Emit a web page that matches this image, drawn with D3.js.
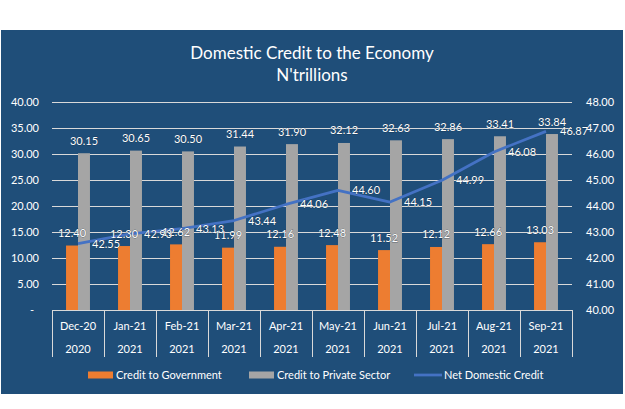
<!DOCTYPE html>
<html>
<head>
<meta charset="utf-8">
<script src="https://cdn.jsdelivr.net/npm/d3@7"></script>
<style>
  body { margin: 0; background: #fff; }
  svg { display: block; font-family: Lato, "Open Sans", sans-serif; }
</style>
</head>
<body>
<svg width="625" height="409"></svg>
<script>
// chart values
const months = ['Dec-20', 'Jan-21', 'Feb-21', 'Mar-21', 'Apr-21', 'May-21', 'Jun-21', 'Jul-21', 'Aug-21', 'Sep-21'];
const years = ['2020', '2021', '2021', '2021', '2021', '2021', '2021', '2021', '2021', '2021'];
const creditGov = [12.40, 12.30, 12.62, 11.99, 12.16, 12.48, 11.52, 12.12, 12.66, 13.03];
const creditPrivate = [30.15, 30.65, 30.50, 31.44, 31.90, 32.12, 32.63, 32.86, 33.41, 33.84];
const netDomestic = [42.55, 42.93, 43.13, 43.44, 44.06, 44.60, 44.15, 44.99, 46.08, 46.87];
const leftTicks = [0, 5, 10, 15, 20, 25, 30, 35, 40];
const rightTicks = [40, 41, 42, 43, 44, 45, 46, 47, 48];

const svg = d3.select('svg');
const bg = '#1F4E79';
const orange = '#ED7D31';
const grey = '#A5A5A5';
const blue = '#4472C4';

svg.append('rect')
  .attr('x', 1).attr('y', 30)
  .attr('width', 622).attr('height', 364)
  .attr('fill', bg);

// title
svg.append('text')
  .attr('x', 312).attr('y', 59)
  .attr('text-anchor', 'middle')
  .attr('fill', '#fff')
  .attr('font-size', 17)
  .text('Domestic Credit to the Economy');
svg.append('text')
  .attr('x', 312).attr('y', 81)
  .attr('text-anchor', 'middle')
  .attr('fill', '#fff')
  .attr('font-size', 17)
  .text("N'trillions");

const plotL = 52, plotR = 572, plotT = 102, plotB = 310;

const x = d3.scaleBand().domain(months).range([plotL, plotR]).padding(0);
const bw = x.bandwidth();
const x1 = d3.scaleBand().domain(['gov', 'priv']).range([bw * 0.27, bw * 0.73]).padding(0);
const y = d3.scaleLinear().domain([0, 40]).range([plotB, plotT]);
const y2 = d3.scaleLinear().domain([40, 48]).range([plotB, plotT]);

// gridlines
const grid = svg.append('g')
  .attr('transform', `translate(${plotL},0)`)
  .call(d3.axisLeft(y).tickValues(leftTicks.slice(1)).tickSize(-(plotR - plotL)).tickFormat(''));
grid.select('.domain').remove();
grid.selectAll('line').attr('stroke', '#D9D9D9').attr('stroke-width', 1);

// left axis
const yAxis = svg.append('g')
  .attr('transform', `translate(${plotL},0)`)
  .call(d3.axisLeft(y).tickValues(leftTicks).tickSize(0).tickPadding(13)
    .tickFormat(d => d === 0 ? '-' : d.toFixed(2)));
yAxis.select('.domain').remove();
yAxis.selectAll('text').attr('fill', '#fff').attr('font-size', 11).attr('font-family', 'Lato');
yAxis.selectAll('.tick').filter(d => d === 0).select('text').attr('x', -18);

// right axis
const y2Axis = svg.append('g')
  .attr('transform', `translate(${plotR},0)`)
  .call(d3.axisRight(y2).tickValues(rightTicks).tickSize(0).tickPadding(14)
    .tickFormat(d => d.toFixed(2)));
y2Axis.select('.domain').remove();
y2Axis.selectAll('text').attr('fill', '#fff').attr('font-size', 11).attr('font-family', 'Lato');

// bars
const groups = svg.append('g').selectAll('g')
  .data(months)
  .join('g')
  .attr('transform', d => `translate(${x(d)},0)`);

groups.append('rect')
  .attr('x', x1('gov'))
  .attr('width', x1.bandwidth())
  .attr('y', (d, i) => y(creditGov[i]))
  .attr('height', (d, i) => y(0) - y(creditGov[i]))
  .attr('fill', orange);

groups.append('rect')
  .attr('x', x1('priv'))
  .attr('width', x1.bandwidth())
  .attr('y', (d, i) => y(creditPrivate[i]))
  .attr('height', (d, i) => y(0) - y(creditPrivate[i]))
  .attr('fill', grey);

// category axis
const cat = svg.append('g');
cat.append('line')
  .attr('x1', plotL).attr('x2', plotR)
  .attr('y1', plotB + 0.5).attr('y2', plotB + 0.5)
  .attr('stroke', '#D9D9D9');
cat.selectAll('line.div')
  .data(months.concat(['end']))
  .join('line')
  .attr('class', 'div')
  .attr('x1', d => (d === 'end' ? plotR : x(d)) + 0.5)
  .attr('x2', d => (d === 'end' ? plotR : x(d)) + 0.5)
  .attr('y1', plotB).attr('y2', 357)
  .attr('stroke', '#D9D9D9');
cat.selectAll('text.month')
  .data(months)
  .join('text')
  .attr('class', 'month')
  .attr('x', d => x(d) + bw / 2)
  .attr('y', 330)
  .attr('text-anchor', 'middle')
  .attr('fill', '#fff')
  .attr('font-size', 11)
  .text(d => d);
cat.selectAll('text.year')
  .data(years)
  .join('text')
  .attr('class', 'year')
  .attr('x', (d, i) => x(months[i]) + bw / 2)
  .attr('y', 353)
  .attr('text-anchor', 'middle')
  .attr('fill', '#fff')
  .attr('font-size', 11)
  .text(d => d);

// net domestic credit line
const line = d3.line()
  .x((d, i) => x(months[i]) + bw / 2)
  .y(d => y2(d));

svg.append('path')
  .attr('d', line(netDomestic))
  .attr('fill', 'none')
  .attr('stroke', blue)
  .attr('stroke-width', 2.75)
  .attr('stroke-linejoin', 'round');

// data labels
const labels = svg.append('g')
  .attr('fill', '#fff')
  .attr('font-size', 11)
  .attr('stroke', '#0b1f33')
  .attr('stroke-width', 0.4)
  .attr('paint-order', 'stroke');

labels.selectAll('text.gov')
  .data(creditGov)
  .join('text')
  .attr('class', 'gov')
  .attr('x', (d, i) => x(months[i]) + x1('gov') + x1.bandwidth() / 2)
  .attr('y', d => y(d) - 8.5)
  .attr('text-anchor', 'middle')
  .text(d => d.toFixed(2));

labels.selectAll('text.priv')
  .data(creditPrivate)
  .join('text')
  .attr('class', 'priv')
  .attr('x', (d, i) => x(months[i]) + x1('priv') + x1.bandwidth() / 2)
  .attr('y', d => y(d) - 8.5)
  .attr('text-anchor', 'middle')
  .text(d => d.toFixed(2));

labels.selectAll('text.net')
  .data(netDomestic)
  .join('text')
  .attr('class', 'net')
  .attr('x', (d, i) => x(months[i]) + bw / 2 + 14)
  .attr('y', d => y2(d) + 4)
  .text(d => d.toFixed(2));

// legend
const legendItems = [
  { name: 'Credit to Government', color: orange, type: 'rect', x: 88 },
  { name: 'Credit to Private Sector', color: grey, type: 'rect', x: 249 },
  { name: 'Net Domestic Credit', color: blue, type: 'line', x: 414 }
];
const legend = svg.append('g').selectAll('g')
  .data(legendItems)
  .join('g')
  .attr('transform', d => `translate(${d.x},375)`);
legend.filter(d => d.type === 'rect').append('rect')
  .attr('x', 0).attr('y', -3.5)
  .attr('width', 25).attr('height', 7)
  .attr('fill', d => d.color);
legend.filter(d => d.type === 'line').append('line')
  .attr('x1', 0).attr('x2', 28)
  .attr('y1', 0).attr('y2', 0)
  .attr('stroke', d => d.color)
  .attr('stroke-width', 2.75);
legend.append('text')
  .attr('x', d => d.type === 'rect' ? 28 : 30)
  .attr('y', 4)
  .attr('fill', '#fff')
  .attr('font-size', 11)
  .text(d => d.name);
</script>
</body>
</html>
